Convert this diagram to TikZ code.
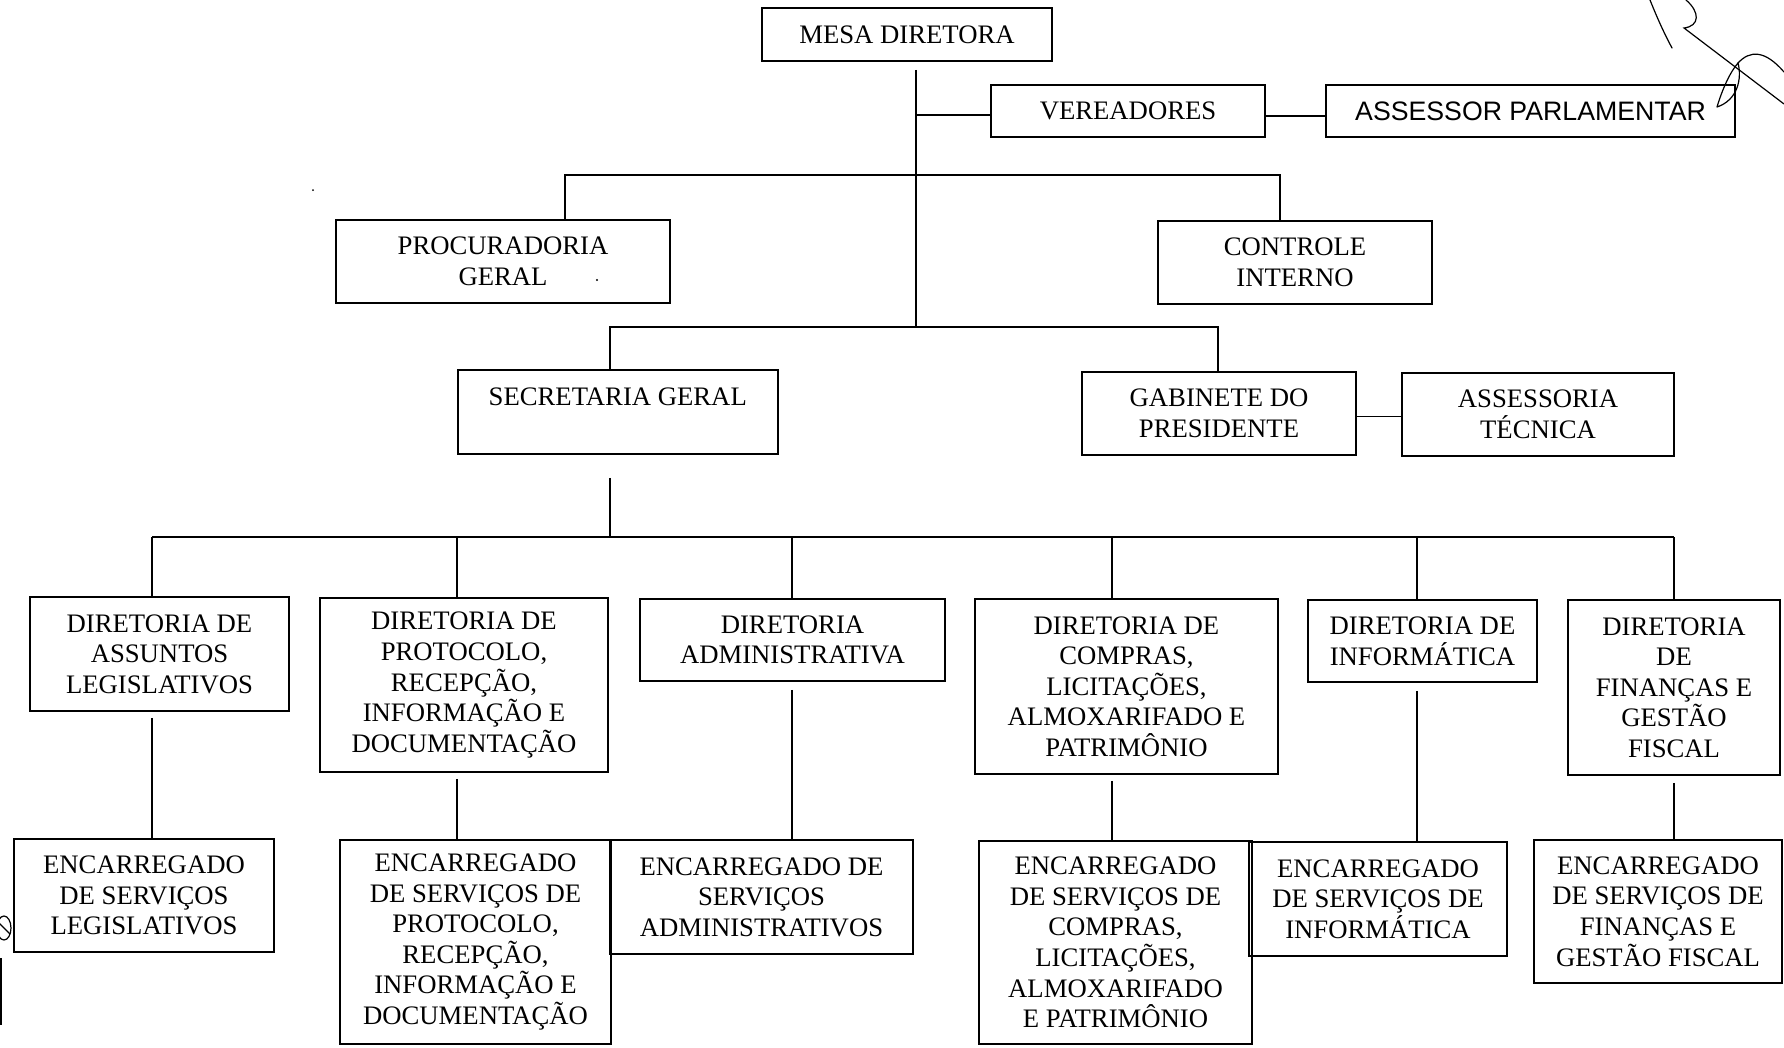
\documentclass[tikz,border=0pt]{standalone}
\usepackage{fontspec}
\setmainfont{Liberation Serif}
\newfontfamily\arialf{Liberation Sans}
\tikzset{
  box/.style={draw, line width=1.8pt, inner sep=0pt, align=center,
    font=\fontsize{26.7}{30.6}\selectfont},
  conn/.style={line width=1.6pt},
  scrib/.style={line width=1.2pt, line cap=round},
}
\begin{document}
\begin{tikzpicture}[x=1pt,y=-1pt]
\useasboundingbox (0,0) rectangle (1784,1047);
\fill[white] (0,0) rectangle (1784,1047);

% top level
\node[box, minimum width=290pt, minimum height=53pt] (mesa) at (907,34.5) {MESA DIRETORA};
\node[box, minimum width=274pt, minimum height=52pt] (vereadores) at (1128,111) {VEREADORES};
\node[box, minimum width=409pt, minimum height=52pt, font=\arialf\fontsize{26.7}{30.6}\selectfont] (assessor) at (1530.5,111) {ASSESSOR PARLAMENTAR};
\node[box, minimum width=334pt, minimum height=83pt] (procuradoria) at (503,261.5) {PROCURADORIA\\GERAL};
\node[box, minimum width=274pt, minimum height=83pt] (controle) at (1295,262.5) {CONTROLE\\INTERNO};
\node[box, minimum width=320pt, minimum height=84pt] (secretaria) at (617.75,412) {SECRETARIA GERAL\\\mbox{}};
\node[box, minimum width=274pt, minimum height=83pt] (gabinete) at (1219,413.5) {GABINETE DO\\PRESIDENTE};
\node[box, minimum width=272pt, minimum height=83pt] (assessoria) at (1538,414.5) {ASSESSORIA\\TÉCNICA};

% diretorias
\node[box, minimum width=259pt, minimum height=114pt] (dassuntos) at (159.5,654) {DIRETORIA DE\\ASSUNTOS\\LEGISLATIVOS};
\node[box, minimum width=288pt, minimum height=174pt] (dprotocolo) at (464,685) {DIRETORIA DE\\PROTOCOLO,\\RECEPÇÃO,\\INFORMAÇÃO E\\DOCUMENTAÇÃO};
\node[box, minimum width=305pt, minimum height=82pt] (dadmin) at (792.5,640) {DIRETORIA\\ADMINISTRATIVA};
\node[box, minimum width=303pt, minimum height=175pt] (dcompras) at (1126.5,686.5) {DIRETORIA DE\\COMPRAS,\\LICITAÇÕES,\\ALMOXARIFADO E\\PATRIMÔNIO};
\node[box, minimum width=229pt, minimum height=82pt] (dinformatica) at (1422.5,641) {DIRETORIA DE\\INFORMÁTICA};
\node[box, minimum width=212pt, minimum height=175pt] (dfinancas) at (1674,687.5) {DIRETORIA\\DE\\FINANÇAS E\\GESTÃO\\FISCAL};

% encarregados
\node[box, minimum width=260pt, minimum height=113pt] (elegis) at (144,895.5) {ENCARREGADO\\DE SERVIÇOS\\LEGISLATIVOS};
\node[box, minimum width=271pt, minimum height=204pt] (eprotocolo) at (475.5,942) {ENCARREGADO\\DE SERVIÇOS DE\\PROTOCOLO,\\RECEPÇÃO,\\INFORMAÇÃO E\\DOCUMENTAÇÃO};
\node[box, minimum width=303pt, minimum height=114pt] (eadmin) at (761.5,897) {ENCARREGADO DE\\SERVIÇOS\\ADMINISTRATIVOS};
\node[box, minimum width=273pt, minimum height=203pt] (ecompras) at (1115.5,942.5) {ENCARREGADO\\DE SERVIÇOS DE\\COMPRAS,\\LICITAÇÕES,\\ALMOXARIFADO\\E PATRIMÔNIO};
\node[box, minimum width=258pt, minimum height=114pt] (einformatica) at (1378,899) {ENCARREGADO\\DE SERVIÇOS DE\\INFORMÁTICA};
\node[box, minimum width=248pt, minimum height=143pt] (efinancas) at (1658,911.5) {ENCARREGADO\\DE SERVIÇOS DE\\FINANÇAS E\\GESTÃO FISCAL};

% connectors top
\coordinate (t1) at (916,327);
\draw[conn] ([yshift=-8pt]mesa.south -| t1) -- (t1);
\coordinate (v0) at (916,115);
\draw[conn] (v0) -- (v0 -| vereadores.west);
\draw[conn] ([yshift=-5pt]vereadores.east) -- ([yshift=-5pt]vereadores.east -| assessor.west);
\coordinate (p0) at (565,175);
\coordinate (c0) at (1280,175);
\draw[conn] (p0 |- procuradoria.north) -- (p0) -- (c0) -- (c0 |- controle.north);
\coordinate (s0) at (610,327);
\coordinate (g0) at (1218,327);
\draw[conn] (s0 |- secretaria.north) -- (s0) -- (g0) -- (g0 |- gabinete.north);
\draw[conn] ([yshift=-3pt]gabinete.east) -- ([yshift=-3pt]gabinete.east -| assessoria.west);

% secretaria to diretorias
\coordinate (sd1) at (610,537);
\draw[conn] ([yshift=-23pt]secretaria.south -| sd1) -- (sd1);
\coordinate (hl) at (152,537);
\coordinate (hr) at (1674,537);
\draw[conn] (hl) -- (hr);
\foreach \n/\x in {dassuntos/152, dprotocolo/457, dadmin/792, dcompras/1112, dinformatica/1417, dfinancas/1674}
  \draw[conn] (\x,537) -- (\x,537 |- \n.north);

% diretorias to encarregados
\foreach \a/\b/\x/\g in {dassuntos/elegis/152/6, dprotocolo/eprotocolo/457/6, dadmin/eadmin/792/8,
  dcompras/ecompras/1112/6, dinformatica/einformatica/1417/8, dfinancas/efinancas/1674/7}
  \draw[conn] ([yshift=-\g pt]\a.south -| \x,0) -- (\b.north -| \x,0);

% scan marks
\draw[scrib] (1650,0) .. controls (1658,20) and (1665,35) .. (1672,48);
\draw[scrib] (1686,0) .. controls (1700,12) and (1700,26) .. (1684,28) -- (1784,104);
\draw[scrib] (1717,107) .. controls (1722,90) and (1730,72) .. (1738,63)
  .. controls (1742,78) and (1738,100) .. (1717,107);
\draw[scrib] (1738,63) .. controls (1750,50) and (1765,50) .. (1784,72);
\draw[scrib] (4,928) ellipse [x radius=7pt, y radius=12pt];
\draw[scrib] (-2,922) -- (10,934);
\draw[line width=1.5pt] (1,958) -- (1,1025);
\fill (313,190) circle (1pt);
\fill (597,280) circle (1.2pt);
\end{tikzpicture}
\end{document}
